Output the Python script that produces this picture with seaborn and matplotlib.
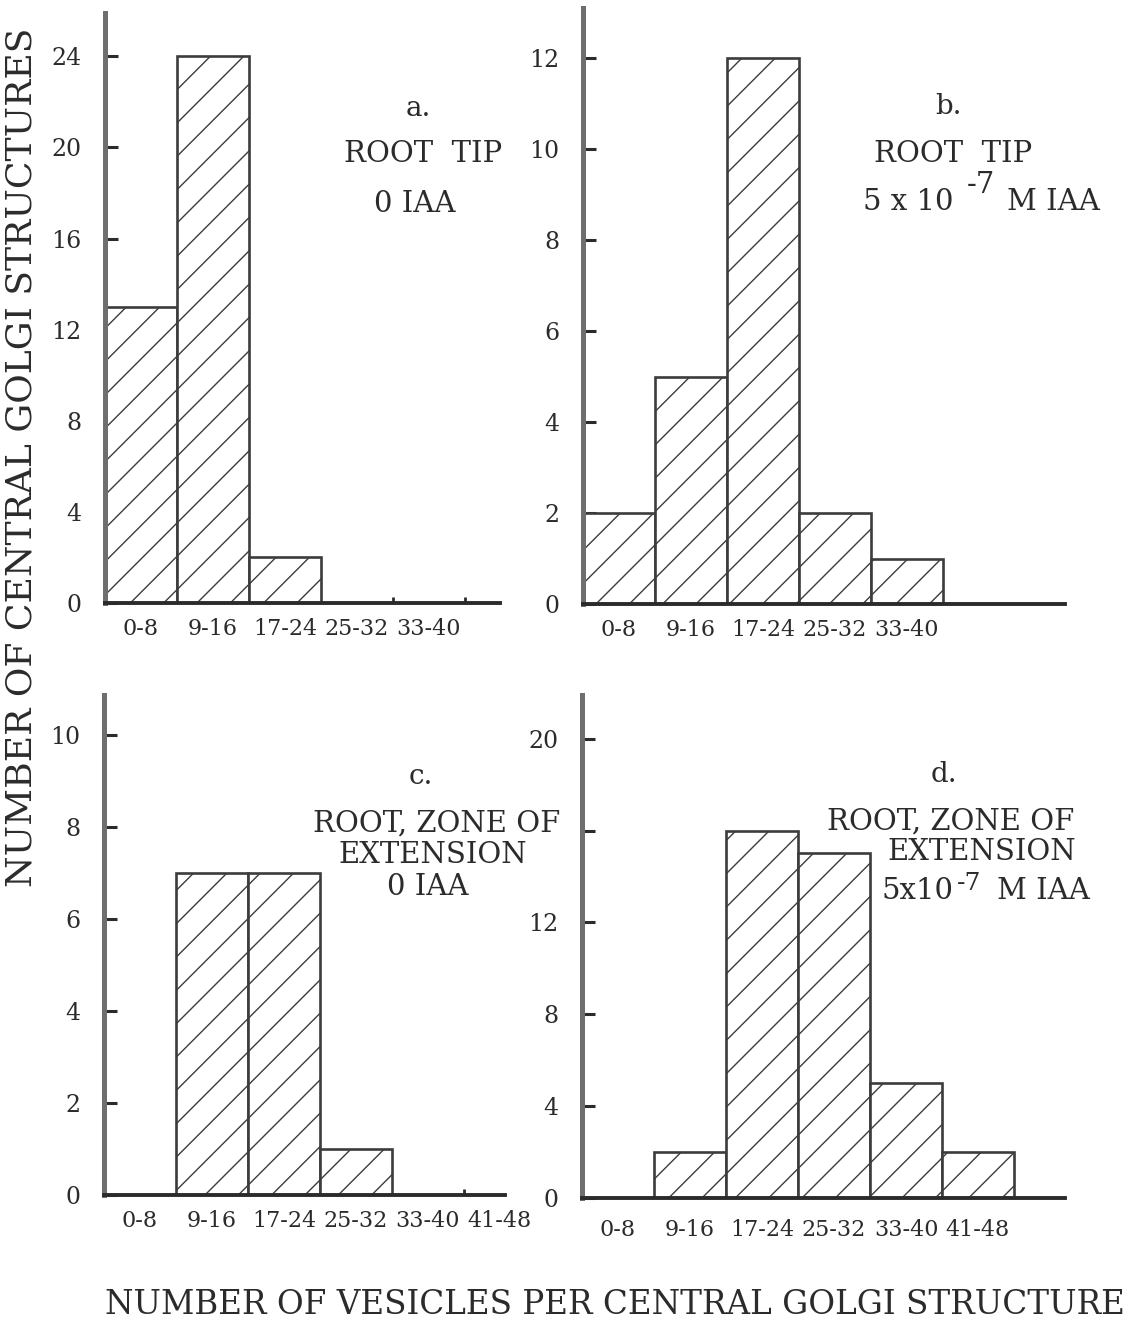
import matplotlib
matplotlib.use("Agg")
import matplotlib.pyplot as plt
import pandas as pd
import seaborn as sns

# Vesicle-count classes (number of vesicles per central Golgi structure)
bins_5 = ["0-8", "9-16", "17-24", "25-32", "33-40"]
bins_6 = ["0-8", "9-16", "17-24", "25-32", "33-40", "41-48"]

# Number of central Golgi structures in each class
tip_0_iaa = [13, 24, 2, 0, 0]          # a. root tip, 0 IAA
tip_5e7_iaa = [2, 5, 12, 2, 1]         # b. root tip, 5 x 10^-7 M IAA
ext_0_iaa = [0, 7, 7, 1, 0, 0]         # c. zone of extension, 0 IAA
ext_5e7_iaa = [0, 2, 16, 15, 5, 2]     # d. zone of extension, 5 x 10^-7 M IAA

yticks_a = [0, 4, 8, 12, 16, 20, 24]
yticks_b = [0, 2, 4, 6, 8, 10, 12]
yticks_c = [0, 2, 4, 6, 8, 10]
yticks_d = [0, 4, 8, 12, 16, 20]
ylabels_d = ["0", "4", "8", "12", "", "20"]

INK = "#2b2b2b"
AXIS_GREY = "#6e6e6e"

sns.set_theme(style="white")
plt.rcParams["font.family"] = ["DejaVu Serif", "DejaVu Sans"]
plt.rcParams["hatch.linewidth"] = 1.0
plt.rcParams["hatch.color"] = INK
plt.rcParams["text.color"] = INK

W, H = 1130, 1331
fig = plt.figure(figsize=(W / 100, H / 100), dpi=100)
fig.patch.set_facecolor("white")


def rect(left, right, top, bottom):
    return [left / W, 1 - bottom / H, (right - left) / W, (bottom - top) / H]


def ftext(x, y, s, size=21, ha="center", **kw):
    fig.text(x / W, 1 - y / H, s, ha=ha, va="center", fontsize=size,
             color=INK, **kw)


BIN_PX = 72.0


def panel(box, cats, counts, yticks, ytop, ylabels=None, xpad=11, stubs=()):
    left, right, top, bottom = box
    ax = fig.add_axes(rect(left, right, top, bottom))
    df = pd.DataFrame({"bin": cats, "count": counts})
    sns.barplot(data=df, x="bin", y="count", order=cats, width=1.0,
                color="white", saturation=1, edgecolor="#3c3c3c",
                linewidth=1.9, ax=ax)
    for p in ax.patches:
        p.set_hatch("/")
        p.set_zorder(2)
    ax.set_xlim(-0.5, -0.5 + (right - left) / BIN_PX)
    ax.set_ylim(0, ytop)
    ax.set_yticks(yticks)
    ax.set_yticklabels(ylabels if ylabels is not None else [str(t) for t in yticks])
    ax.set_xlabel("")
    ax.set_ylabel("")
    for side in ("top", "right"):
        ax.spines[side].set_visible(False)
    ax.spines["left"].set(linewidth=3.6, color=AXIS_GREY, zorder=5)
    ax.spines["bottom"].set(linewidth=2.8, color=INK, zorder=5)
    ax.tick_params(axis="y", direction="in", length=9, width=2.2, color=INK,
                   labelsize=17, pad=17, labelcolor=INK, left=True)
    ax.tick_params(axis="x", length=0, labelsize=16, pad=xpad,
                   labelcolor=INK, bottom=True)
    if stubs:
        ax.set_xticks(list(stubs), minor=True)
        ax.tick_params(axis="x", which="minor", direction="in", length=4,
                       width=2, color=INK, bottom=True)
    ax.set_facecolor("white")
    return ax


ax_a = panel((105, 500, 13, 603), bins_5, tip_0_iaa, yticks_a, 25.9,
             stubs=(3.5, 4.5))
ax_b = panel((583, 1065, 8, 604), bins_5, tip_5e7_iaa, yticks_b, 13.1)
ax_c = panel((104, 505, 695, 1195), bins_6, ext_0_iaa, yticks_c, 10.87,
             stubs=(4.5,))
ax_d = panel((582, 1065, 695, 1198), bins_6, ext_5e7_iaa, yticks_d, 21.9,
             ylabels=ylabels_d, xpad=15)

# Panel captions
ftext(418, 109, "a.", 20)
ftext(423, 154, "ROOT  TIP", 21)
ftext(415, 204, "0 IAA", 21)

ftext(948, 107, "b.", 20)
ftext(953, 154, "ROOT  TIP", 21)
ftext(863, 202, "5 x 10", 21, ha="left")
ftext(967, 185, "-7", 21, ha="left")
ftext(1007, 202, "M IAA", 21, ha="left")

ftext(421, 776, "c.", 20)
ftext(437, 824, "ROOT, ZONE OF", 21)
ftext(433, 855, "EXTENSION", 21)
ftext(428, 887, "0 IAA", 21)

ftext(944, 774, "d.", 20)
ftext(951, 822, "ROOT, ZONE OF", 21)
ftext(982, 852, "EXTENSION", 21)
ftext(882, 891, "5x10", 21, ha="left")
ftext(957, 884, "-7", 18, ha="left")
ftext(997, 891, "M IAA", 21, ha="left")

# Shared axis titles
ftext(22, 457, "NUMBER OF CENTRAL GOLGI STRUCTURES", 26, rotation=90)
ftext(615, 1305, "NUMBER OF VESICLES PER CENTRAL GOLGI STRUCTURE", 23.5)

fig.savefig("out.png", dpi=100, facecolor="white")
